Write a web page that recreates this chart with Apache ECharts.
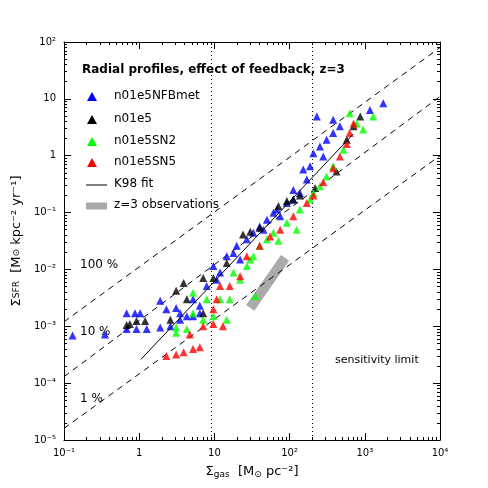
<!DOCTYPE html>
<html><head><meta charset="utf-8">
<script src="https://cdn.jsdelivr.net/npm/echarts@6/dist/echarts.min.js"></script>
<style>html,body{margin:0;padding:0;background:#fff}#c{width:488px;height:488px}</style>
</head><body><div id="c"></div>
<script>
const blue = [[0.13,6.9e-4],[0.35,7.2e-4],[0.68,1.7e-3],[0.88,1.7e-3],[1.03,1.7e-3],[0.68,9e-4],[0.92,9e-4],[1.26,9e-4],[1.9,2.8e-3],[2.3,2.0e-3],[3.1,2.1e-3],[1.9,9.5e-4],[2.6,1.0e-3],[3.5,1.7e-3],[4.3,1.5e-3],[5.2,1.5e-3],[6.4,1.7e-3],[7.9,5.1e-3],[9.7,1.15e-2],[11.9,8.8e-3],[14.6,1.7e-2],[19.8,2.6e-2],[27,3.4e-2],[40,5.7e-2],[50,7.5e-2],[68,0.113],[92,0.148],[112,0.17],[137,0.22],[169,0.38],[187,0.65],[207,1.1],[253,1.45],[310,1.9],[380,2.5],[466,3.3],[230,4.9],[380,4.3],[1760,8.4],[1170,6.4],[10.7,6.6e-3],[17.9,1.95e-2],[33,4.4e-2],[61,0.099],[75,0.086],[112,0.25],[152,0.57],[280,0.97],[5.2,3e-3],[6.4,2.3e-3],[3.5,1.3e-3],[22,1.5e-2],[45,0.05]];
const black = [[0.68,1.05e-3],[0.75,1.1e-3],[0.92,1.24e-3],[1.2,1.24e-3],[2.6,1.3e-3],[3.1,4.2e-3],[3.9,5.8e-3],[4.3,3e-3],[7.1,1.7e-3],[7.1,7.1e-3],[9.7,7.1e-3],[24,4.1e-2],[40,5.4e-2],[71,0.13],[112,0.17],[137,0.2],[218,0.27],[420,0.53],[575,1.9],[710,3.3],[870,4.9],[14.6,1.3e-2],[30,4.6e-2],[92,0.16]];
const green = [[3.1,7.7e-4],[3.1,9.5e-4],[4.3,9e-4],[5.2,1.7e-3],[7.1,1.3e-3],[9.7,1.5e-3],[14.6,1.3e-3],[7.9,3e-3],[11.9,3e-3],[16,3e-3],[5.2,3.9e-3],[22,6.6e-3],[27,1.15e-2],[33,1.7e-2],[40,2.6e-2],[50,3.4e-2],[71,3.2e-2],[92,6.6e-2],[124,0.05],[187,0.17],[253,0.29],[310,0.43],[380,0.65],[520,1.27],[630,5.6],[780,3.7],[950,2.9],[1290,4.9],[35,3.4e-3],[17.9,8.8e-3],[30,1.5e-2],[61,4.4e-2],[137,0.113],[207,0.22]];
const red = [[2.3,3e-4],[3.1,3.2e-4],[3.9,3.5e-4],[5.2,4e-4],[6.4,4.3e-4],[4.7,7.2e-4],[7.1,1e-3],[9.7,1.1e-3],[13,1e-3],[9.7,2e-3],[10.7,3e-3],[11.9,5.1e-3],[16,5.1e-3],[22,7.6e-3],[27,1.7e-2],[40,2.6e-2],[55,3.8e-2],[75,5e-2],[112,8.6e-2],[169,0.148],[207,0.2],[280,0.34],[380,0.6],[466,0.97],[575,1.6],[630,2.5],[710,3.7]];
const k98 = [[1.05,2.6e-4],[700,2.4]];
const obs = [[30,2.1e-3],[87,1.6e-2]];
const eff100 = [[0.1,1.2e-3],[1e4,80]];
const eff10 = [[0.1,1.3e-4],[1e4,11]];
const eff1 = [[0.1,1.6e-5],[1e4,1.0]];
const vLines = [9,200];
const sensLimit = 2e-4;

const sup = {'-':'⁻','0':'⁰','1':'¹','2':'²','3':'³','4':'⁴','5':'⁵'};
function fmt(v){const e=Math.round(Math.log10(v)); if(e===0) return '1'; if(e===1) return '10'; return '10'+String(e).split('').map(c=>sup[c]).join('');}
const F='DejaVu Sans';
const tri=(name,data,color)=>({name,type:'scatter',data,symbol:'triangle',symbolSize:8,itemStyle:{color},z:5});
const dash=(d)=>({type:'line',data:d,symbol:'none',lineStyle:{color:'#000',type:[6,5],width:1},silent:true});
const chart=echarts.init(document.getElementById('c'));
const axisCommon={type:'log',logBase:10,axisLine:{lineStyle:{color:'#000'}},axisTick:{inside:true,length:7,lineStyle:{color:'#000'}},minorTick:{show:true,splitNumber:9,length:3,lineStyle:{color:'#000'}},splitLine:{show:false},axisLabel:{color:'#000',fontFamily:F,fontSize:10,formatter:fmt}};
const mirror={axisLabel:{show:false}};
chart.setOption({
 animation:false,
 grid:{left:64,right:48,top:42,bottom:48},
 xAxis:[{...axisCommon,min:0.1,max:1e4,name:'Σ{s|gas}  [M{s|⊙} pc⁻²]',nameLocation:'middle',nameGap:24,nameTextStyle:{color:'#000',fontFamily:F,fontSize:13,rich:{s:{fontSize:9,verticalAlign:'bottom',padding:[6,0,0,0],fontFamily:F}}}},
        {...axisCommon,...mirror,min:0.1,max:1e4,position:'top'}],
 yAxis:[{...axisCommon,min:1e-5,max:100,name:'Σ{s|SFR}  [M{s|⊙} kpc⁻² yr⁻¹]',nameLocation:'middle',nameGap:36,nameTextStyle:{color:'#000',fontFamily:F,fontSize:13,rich:{s:{fontSize:9,fontFamily:F}}}},
        {...axisCommon,...mirror,min:1e-5,max:100,position:'right'}],
 series:[
  dash(eff100),dash(eff10),dash(eff1),
  {type:'line',data:obs,symbol:'none',lineStyle:{color:'#aaaaaa',width:10},z:2},
  tri('n01e5NFBmet',blue,'#0000ff'),tri('n01e5',black,'#000000'),tri('n01e5SN2',green,'#00ff00'),tri('n01e5SN5',red,'#ff0000'),
  {type:'line',data:k98,symbol:'none',lineStyle:{color:'#000',width:1},z:6,
   markLine:{silent:true,symbol:'none',label:{show:false},data:[...vLines.map(v=>({xAxis:v,lineStyle:{type:[1,3],color:'#000',width:1}})),{yAxis:sensLimit,lineStyle:{type:[6,5],color:'#000',width:1}}]}}
 ],
 graphic:[
  {type:'text',left:82,top:64,style:{text:'Radial profiles, effect of feedback, z=3',font:'bold 12px "DejaVu Sans"',fill:'#000'}},
  ...[['n01e5NFBmet','#0000ff',97],['n01e5','#000',120],['n01e5SN2','#00ff00',142],['n01e5SN5','#ff0000',163]].map(([t,c,y])=>[
   {type:'polygon',shape:{points:[[92,y-5],[97,y+4],[87,y+4]]},style:{fill:c}},
   {type:'text',x:114,y:y-7,style:{text:t,font:'12px "DejaVu Sans"',fill:'#000'}}]).flat(),
  {type:'line',shape:{x1:86,y1:185,x2:107,y2:185},style:{stroke:'#000',lineWidth:1}},
  {type:'text',x:114,y:178,style:{text:'K98 fit',font:'12px "DejaVu Sans"',fill:'#000'}},
  {type:'line',shape:{x1:86,y1:206,x2:107,y2:206},style:{stroke:'#aaa',lineWidth:7}},
  {type:'text',x:114,y:199,style:{text:'z=3 observations',font:'12px "DejaVu Sans"',fill:'#000'}},
  {type:'text',x:80,y:259,style:{text:'100 %',font:'12px "DejaVu Sans"',fill:'#000'}},
  {type:'text',x:80,y:326,style:{text:'10 %',font:'12px "DejaVu Sans"',fill:'#000'}},
  {type:'text',x:80,y:393,style:{text:'1 %',font:'12px "DejaVu Sans"',fill:'#000'}},
  {type:'text',x:335,y:355,style:{text:'sensitivity limit',font:'11px "DejaVu Sans"',fill:'#000'}}
 ]
});
</script></body></html>
